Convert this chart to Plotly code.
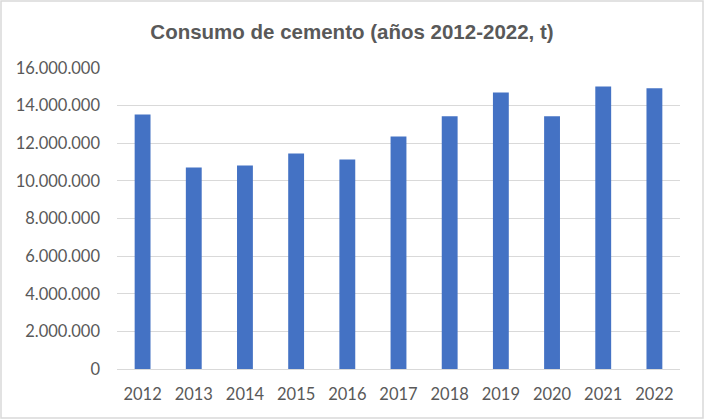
import plotly.graph_objects as go

# Consumo de cemento, toneladas
years = ["2012", "2013", "2014", "2015", "2016", "2017", "2018", "2019", "2020", "2021", "2022"]
consumo = [13530000, 10710000, 10820000, 11460000, 11130000, 12360000,
           13430000, 14700000, 13430000, 15020000, 14920000]
tick_vals = [0, 2000000, 4000000, 6000000, 8000000, 10000000, 12000000, 14000000, 16000000]

W, H = 704, 419
ml, mr, mt, mb = 117, 24, 68, 50
pw, ph = W - ml - mr, H - mt - mb

fig = go.Figure()
fig.add_trace(go.Bar(x=years, y=consumo, marker_color="#4472C4", marker_line_width=0))

fig.update_layout(
    width=W, height=H,
    margin=dict(l=ml, r=mr, t=mt, b=mb),
    paper_bgcolor="white", plot_bgcolor="white",
    separators=",.",
    bargap=0.69,
    showlegend=False,
    font=dict(family="Lato, Carlito, Liberation Sans", size=16.5, color="#595959"),
    title=dict(text="<b>Consumo de cemento (años 2012-2022, t)</b>",
               x=0.5, xanchor="center", y=1 - 32 / H, yanchor="middle",
               font=dict(family="Liberation Sans Narrow, Arial Narrow, Liberation Sans",
                         size=20.5, color="#595959")),
)
fig.update_xaxes(showgrid=False, showline=True, linecolor="#d9d9d9", linewidth=1,
                 ticks="", ticklabelstandoff=10, fixedrange=True)
fig.update_yaxes(range=[0, 16000000], tickvals=tick_vals, tickformat=",d",
                 showgrid=True, gridcolor="#d9d9d9", gridwidth=1,
                 zeroline=False, showline=False, ticks="", ticklabelstandoff=16,
                 fixedrange=True)

# marco exterior del gráfico
fig.add_shape(type="rect", xref="paper", yref="paper",
              x0=-(ml - 1) / pw, x1=1 + (mr - 1) / pw,
              y0=-(mb - 1) / ph, y1=1 + (mt - 1) / ph,
              line=dict(color="#d9d9d9", width=1.5), layer="below")

fig.write_html("out.html", config={"displayModeBar": False},
               post_script="document.body.style.margin='0';document.body.style.overflow='hidden';")
